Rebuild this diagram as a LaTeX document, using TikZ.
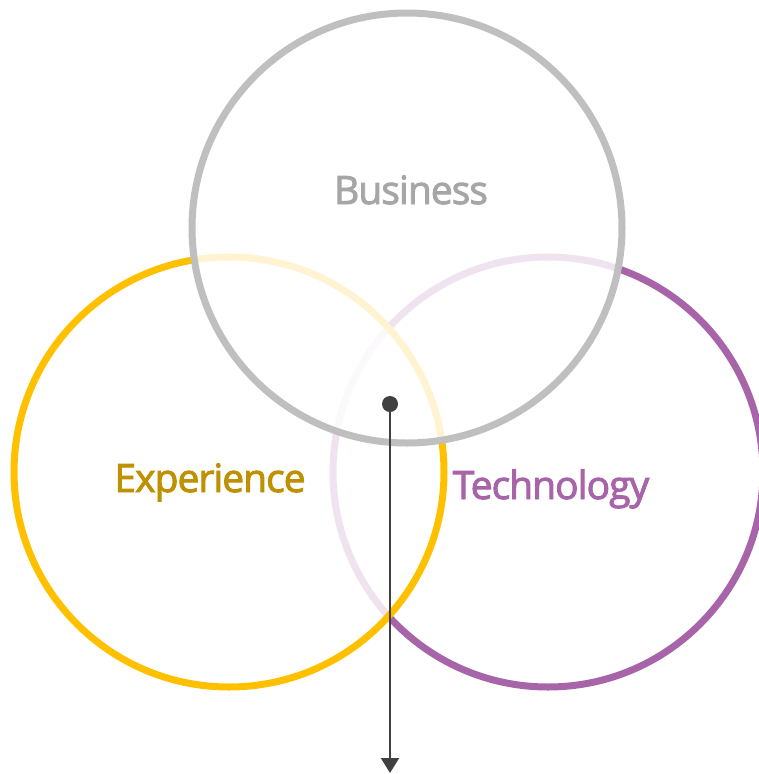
\documentclass[tikz,border=0pt]{standalone}
\usepackage{fontspec}
\setmainfont{Open Sans}
\newfontfamily\tagfont{Open Sans}[FakeBold=2.4, LetterSpace=-2.5]
\usetikzlibrary{arrows.meta}

\definecolor{ringgray}{HTML}{BFBFBF}
\definecolor{ringyellow}{HTML}{FFC000}
\definecolor{ringpurple}{HTML}{A864A8}
\definecolor{labelgray}{HTML}{A6A6A6}
\definecolor{labelgold}{HTML}{BF9000}
\definecolor{pointer}{HTML}{404040}

\begin{document}
\begin{tikzpicture}[
    x=1pt, y=-1pt,
    ring/.style={circle, line width=7pt, fill=white, fill opacity=0.82, minimum size=430pt, inner sep=0pt},
    tag/.style={font=\tagfont\fontsize{39}{44}\selectfont, inner sep=0pt, anchor=base},
    hubdot/.style={circle, fill=pointer, inner sep=0pt, minimum size=16pt},
]
    \useasboundingbox (0,0) rectangle (758,774);

    % Circles, back to front
    \node[ring, draw=ringpurple] (tech) at (548,472) {};
    \node[ring, draw=ringyellow] (exp)  at (229,472) {};
    \node[ring, draw=ringgray]   (biz)  at (407,228) {};

    % Labels
    \node[tag, text=labelgray]  (bizlabel)  at (411,204) {Business};
    \node[tag, text=labelgold]  (explabel)  at (210,492) {Experience};
    \node[tag, text=ringpurple] (techlabel) at (551,499) {Technology};

    % Pointer from the middle down
    \node[hubdot] (hub) at (390,404) {};
    \coordinate (tail) at (390,773);
    \draw[pointer, line width=2pt, -{Triangle[width=18pt,length=15pt]}] (hub) -- (tail);
\end{tikzpicture}
\end{document}
